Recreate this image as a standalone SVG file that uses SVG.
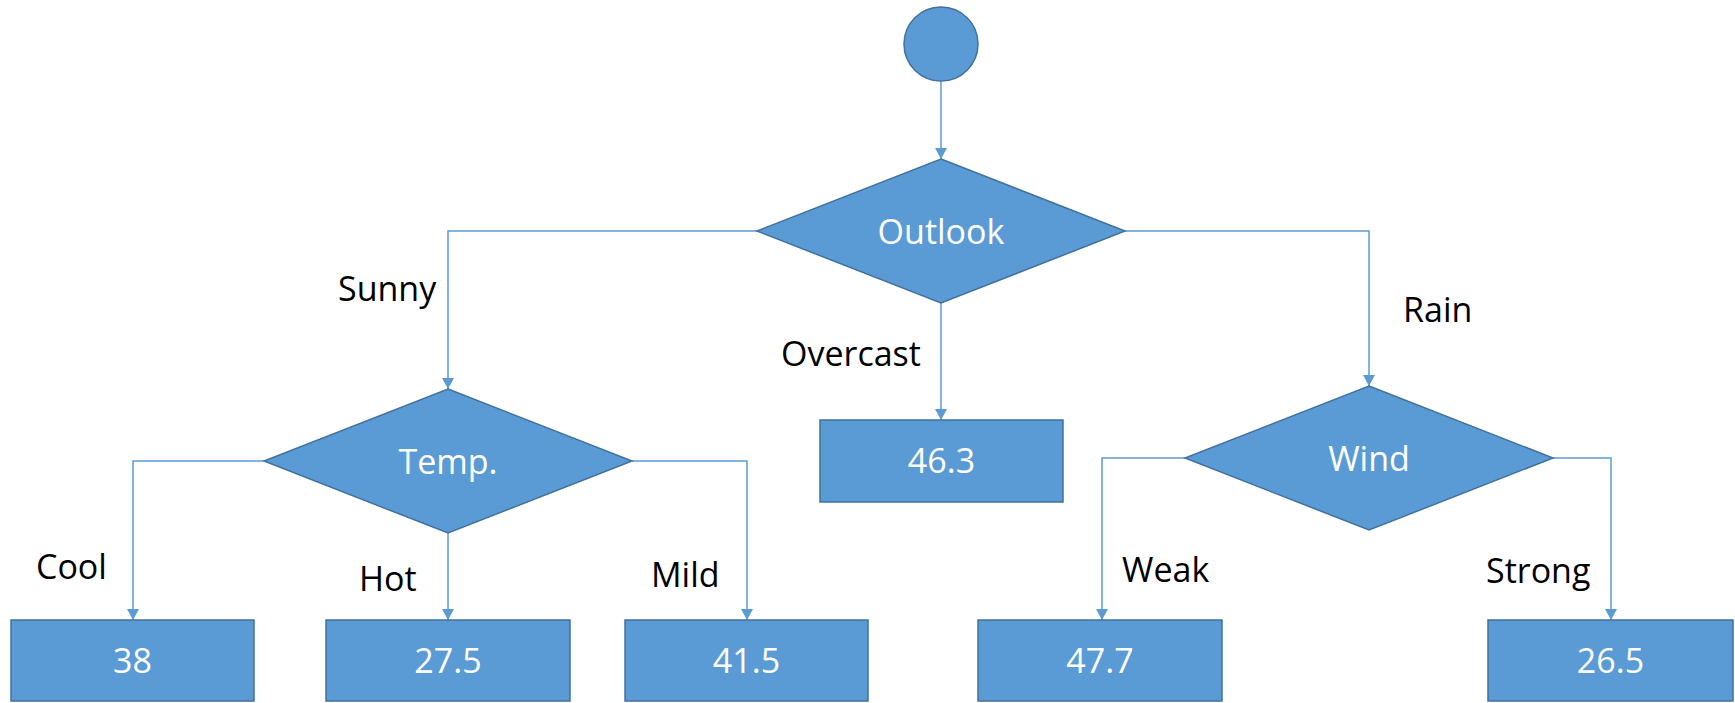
<svg xmlns="http://www.w3.org/2000/svg" width="1735" height="703" viewBox="0 0 1735 703">
  <style>
    .shape { fill: #5B9BD5; stroke: #41719C; stroke-width: 1.5; }
    .node-text { font-family: "Open Sans", "Liberation Sans", sans-serif; font-size: 34px; fill: #FFFFFF; text-anchor: middle; }
    .edge { fill: none; stroke: #5B9BD5; stroke-width: 1.5; marker-end: url(#arrow); }
    .edge-label { font-family: "Open Sans", "Liberation Sans", sans-serif; font-size: 34px; fill: #000000; }
  </style>
  <defs>
    <marker id="arrow" markerUnits="userSpaceOnUse" markerWidth="12" markerHeight="12" refX="11" refY="6" orient="auto">
      <path d="M0,0 L11,6 L0,12 Z" fill="#5B9BD5"/>
    </marker>
  </defs>

  <rect width="1735" height="703" fill="#FFFFFF"/>

  <!-- connectors -->
  <g id="connectors">
    <path class="edge" d="M941,81 V159"/>
    <path class="edge" d="M757,231 H448 V389"/>
    <path class="edge" d="M941,303 V420"/>
    <path class="edge" d="M1125,231 H1369 V386"/>
    <path class="edge" d="M264,461 H133 V620"/>
    <path class="edge" d="M448,533 V620"/>
    <path class="edge" d="M632,461 H747 V620"/>
    <path class="edge" d="M1185,458 H1102 V620"/>
    <path class="edge" d="M1553,458 H1611 V620"/>
    <text class="edge-label" x="338" y="301">Sunny</text>
    <text class="edge-label" x="781" y="366">Overcast</text>
    <text class="edge-label" x="1403" y="322">Rain</text>
    <text class="edge-label" x="36" y="579">Cool</text>
    <text class="edge-label" x="359" y="591">Hot</text>
    <text class="edge-label" x="651" y="587">Mild</text>
    <text class="edge-label" x="1122" y="582">Weak</text>
    <text class="edge-label" x="1486" y="583">Strong</text>
  </g>

  <!-- start node -->
  <g id="start">
    <circle class="shape" cx="941" cy="44" r="37"/>
  </g>

  <!-- decision nodes -->
  <g id="outlook">
    <polygon class="shape" points="941,159 1125,231 941,303 757,231"/>
    <text class="node-text" x="941" y="244">Outlook</text>
  </g>
  <g id="temp">
    <polygon class="shape" points="448,389 632,461 448,533 264,461"/>
    <text class="node-text" x="448" y="474">Temp.</text>
  </g>
  <g id="wind">
    <polygon class="shape" points="1369,386 1553,458 1369,530 1185,458"/>
    <text class="node-text" x="1369" y="471">Wind</text>
  </g>

  <!-- leaf nodes -->
  <g id="leaf-overcast">
    <rect class="shape" x="820" y="420" width="243" height="82"/>
    <text class="node-text" x="941.5" y="473">46.3</text>
  </g>
  <g id="leaf-cool">
    <rect class="shape" x="11" y="620" width="243" height="81"/>
    <text class="node-text" x="132.5" y="673">38</text>
  </g>
  <g id="leaf-hot">
    <rect class="shape" x="326" y="620" width="244" height="81"/>
    <text class="node-text" x="448" y="673">27.5</text>
  </g>
  <g id="leaf-mild">
    <rect class="shape" x="625" y="620" width="243" height="81"/>
    <text class="node-text" x="746.5" y="673">41.5</text>
  </g>
  <g id="leaf-weak">
    <rect class="shape" x="978" y="620" width="244" height="81"/>
    <text class="node-text" x="1100" y="673">47.7</text>
  </g>
  <g id="leaf-strong">
    <rect class="shape" x="1488" y="620" width="245" height="81"/>
    <text class="node-text" x="1610.5" y="673">26.5</text>
  </g>
</svg>
